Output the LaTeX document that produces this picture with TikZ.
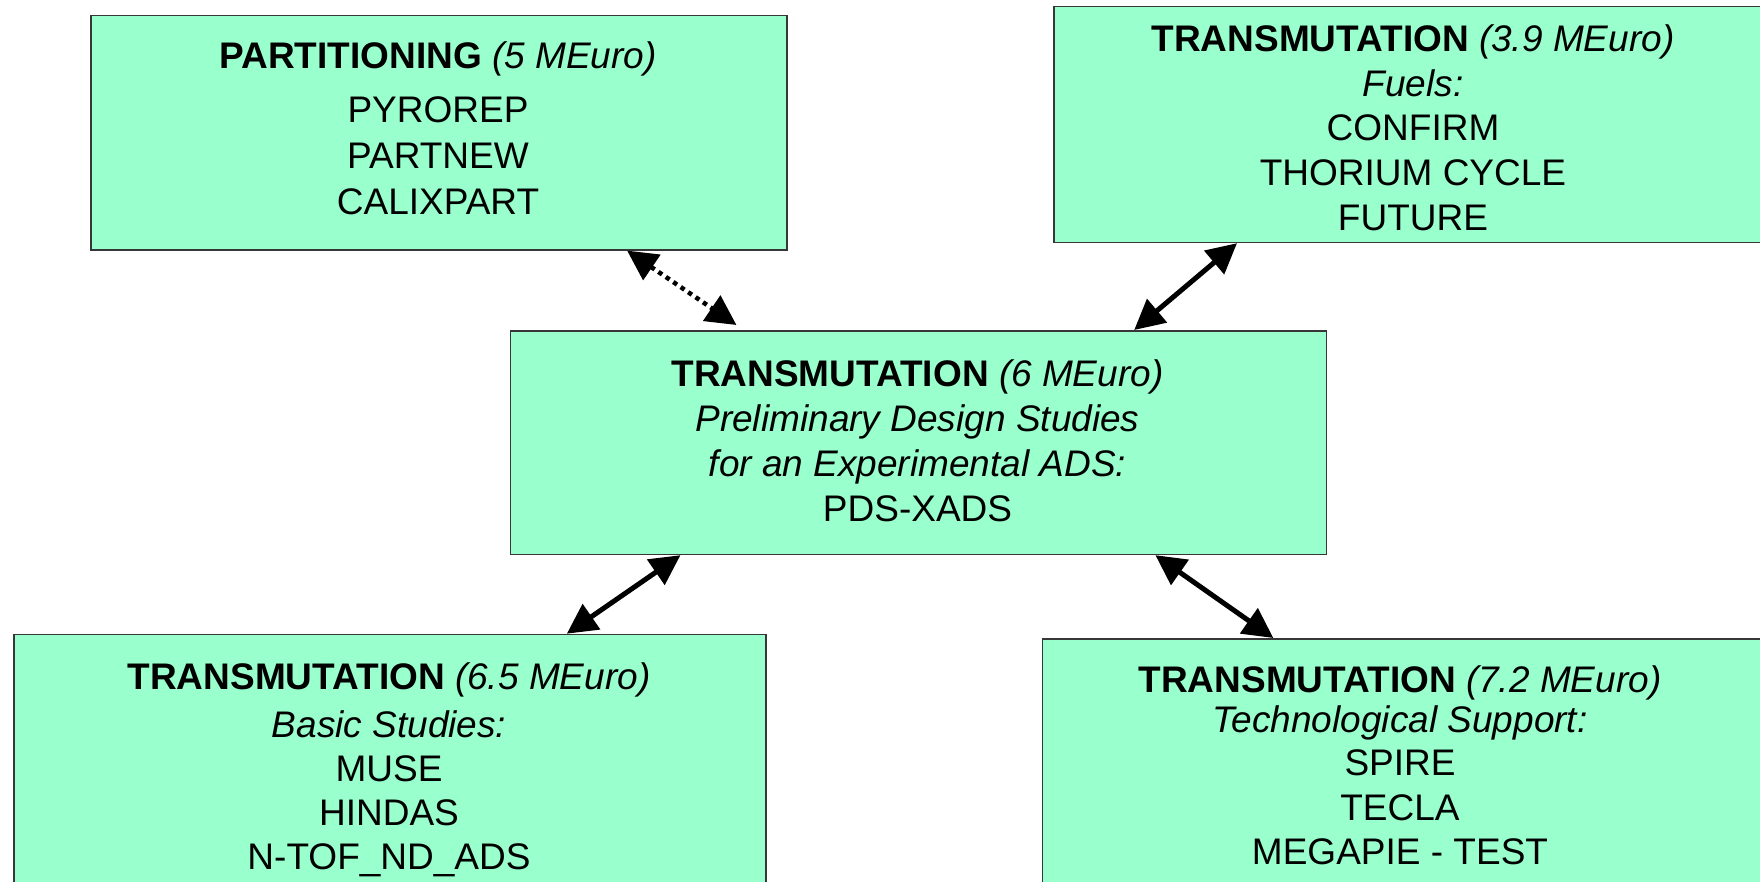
\documentclass[tikz,border=0pt]{standalone}
\usepackage{fontspec}
\setmainfont{Liberation Sans}
\usetikzlibrary{arrows.meta,calc}
\definecolor{mint}{RGB}{153,255,204}
\definecolor{edgec}{RGB}{55,55,55}
\newcommand\hdr[2]{\textbf{#1} \textit{(#2)}}
\begin{document}
\begin{tikzpicture}[x=1pt,y=-1pt,
  box/.style={draw=edgec, line width=1.5pt, fill=mint, rectangle, anchor=north west, inner sep=0pt},
  txt/.style={anchor=base, inner sep=0pt},
  link/.style={line width=5pt, {Triangle[length=30pt,width=30pt]}-{Triangle[length=30pt,width=30pt]}},
  dotlink/.style={link, line width=4.5pt, dash pattern=on 4.5pt off 4.5pt}]
\useasboundingbox (0,0) rectangle (1760,882);
\clip (0,0) rectangle (1760,882);

% boxes
\node[box, minimum width=696pt, minimum height=234.5pt] (part) at (90,14.6) {};
\node[box, minimum width=720pt, minimum height=236pt] (fuel) at (1053,5.7) {};
\node[box, minimum width=816pt, minimum height=223.7pt] (pds) at (509.6,330) {};
\node[box, minimum width=752pt, minimum height=263pt] (basic) at (13,633.7) {};
\node[box, minimum width=725pt, minimum height=260pt] (tech) at (1041.6,638) {};

% texts
\node[txt, font=\fontsize{37}{46}\selectfont] (partT) at (438,68.3) {\begin{tabular}[t]{@{}c@{}}
\hdr{PARTITIONING}{5 MEuro}\\[8pt]
PYROREP\\
PARTNEW\\
CALIXPART
\end{tabular}};

\node[txt, font=\fontsize{37}{44.6}\selectfont] (fuelT) at (1413,51.7) {\begin{tabular}[t]{@{}c@{}}
\hdr{TRANSMUTATION}{3.9 MEuro}\\
\textit{Fuels:}\\
CONFIRM\\
THORIUM CYCLE\\
FUTURE
\end{tabular}};

\node[txt, font=\fontsize{37}{45}\selectfont] (pdsT) at (917.5,386) {\begin{tabular}[t]{@{}c@{}}
\hdr{TRANSMUTATION}{6 MEuro}\\
\textit{Preliminary Design Studies}\\
\textit{for an Experimental ADS:}\\
PDS-XADS
\end{tabular}};

\node[txt, font=\fontsize{37}{44.3}\selectfont] (basicT) at (389,689.3) {\begin{tabular}[t]{@{}c@{}}
\hdr{TRANSMUTATION}{6.5 MEuro}\\[3.4pt]
\textit{Basic Studies:}\\
MUSE\\
HINDAS\\
N-TOF\_ND\_ADS
\end{tabular}};

\node[txt, font=\fontsize{37}{40}\selectfont] (techT) at (1400,692.7) {\begin{tabular}[t]{@{}c@{}}
\hdr{TRANSMUTATION}{7.2 MEuro}\\[0pt]
\textit{Technological Support:}\\[2.6pt]
SPIRE\\[4.7pt]
TECLA\\[4.3pt]
MEGAPIE - TEST
\end{tabular}};

% connectors
\draw[dotlink] ($(part.south west)!0.770!(part.south east)$) -- ($(pds.north west)!0.2775!(pds.north east)+(0,-5)$);
\draw[link] ($(fuel.south west)!0.255!(fuel.south east)$) -- ($(pds.north west)!0.764!(pds.north east)$);
\draw[link] ($(pds.south west)!0.209!(pds.south east)$) -- ($(basic.north west)!0.735!(basic.north east)$);
\draw[link] ($(pds.south west)!0.79!(pds.south east)$) -- ($(tech.north west)!0.319!(tech.north east)$);
\end{tikzpicture}
\end{document}
